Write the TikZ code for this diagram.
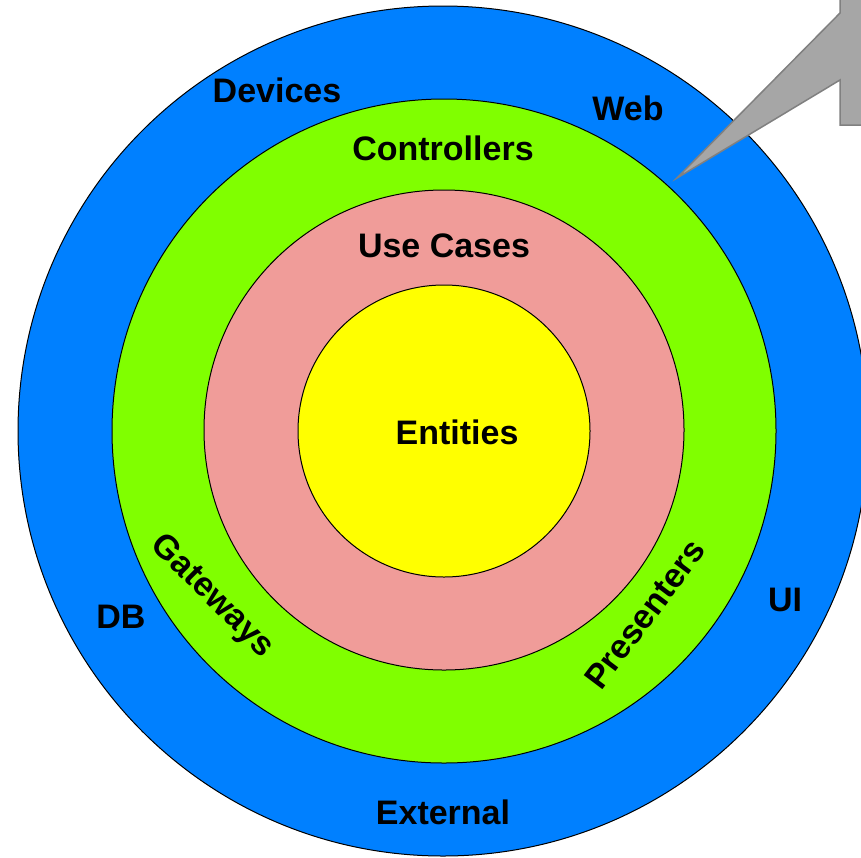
\documentclass[tikz,border=0pt]{standalone}
\usepackage{fontspec}
\setmainfont{Liberation Sans}
\usepackage{xcolor}
\usepackage{tikz}

\definecolor{outerblue}{RGB}{0,128,255}
\definecolor{adaptgreen}{RGB}{128,255,0}
\definecolor{casepink}{RGB}{240,156,153}
\definecolor{coreyellow}{RGB}{255,255,0}
\definecolor{calloutgray}{RGB}{166,166,166}
\definecolor{calloutedge}{RGB}{128,128,128}

\begin{document}
\begin{tikzpicture}
    [x=1pt,y=-1pt,
    ring/.style={circle,draw=black,line width=1pt,inner sep=0pt},
    layer label/.style={font=\fontsize{34}{40}\selectfont\bfseries,inner sep=0pt},
    callout/.style={fill=calloutgray,draw=calloutedge,line width=1.5pt,line join=miter}]

\useasboundingbox (0,0) rectangle (861,857);
\clip (0,0) rectangle (861,857);

%draw the rings from outside in
\node[ring,fill=outerblue,minimum size=850] (external ring) at (443,431) {};
\node[ring,fill=adaptgreen,minimum size=664] (adapter ring) at (444,431) {};
\node[ring,fill=casepink,minimum size=480] (usecase ring) at (444,430) {};
\node[ring,fill=coreyellow,minimum size=292] (entity ring) at (444,431) {};

%draw the callout pointing at the green ring
\draw[callout] (840,-10) -- (840,13) -- (677,178) -- (840,80) -- (840,125) -- (880,125) -- (880,-10) -- cycle;

%outer ring labels
\node[layer label] (devices) at (277,90) {Devices};
\node[layer label] (web) at (628,108) {Web};
\node[layer label] (db) at (121,617) {DB};
\node[layer label] (ui) at (785,600) {UI};
\node[layer label] (external) at (443,812) {External};

%green ring labels
\node[layer label] (controllers) at (443,148) {Controllers};
\node[layer label,rotate=-45] (gateways) at (212,597) {Gateways};
\node[layer label,rotate=53] (presenters) at (645,614) {Presenters};

%inner labels
\node[layer label] (usecases) at (444,246) {Use Cases};
\node[layer label] (entities) at (457,432) {Entities};

\end{tikzpicture}
\end{document}
